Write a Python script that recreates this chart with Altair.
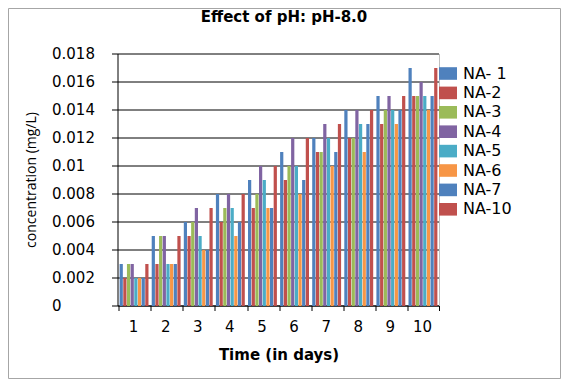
import altair as alt
import pandas as pd

days = ["1", "2", "3", "4", "5", "6", "7", "8", "9", "10"]
series = ["NA- 1", "NA-2", "NA-3", "NA-4", "NA-5", "NA-6", "NA-7", "NA-10"]
na1 = [0.003, 0.005, 0.006, 0.008, 0.009, 0.011, 0.012, 0.014, 0.015, 0.017]
na2 = [0.002, 0.003, 0.005, 0.006, 0.007, 0.009, 0.011, 0.012, 0.013, 0.015]
na3 = [0.003, 0.005, 0.006, 0.007, 0.008, 0.010, 0.011, 0.012, 0.014, 0.015]
na4 = [0.003, 0.005, 0.007, 0.008, 0.010, 0.012, 0.013, 0.014, 0.015, 0.016]
na5 = [0.002, 0.003, 0.005, 0.007, 0.009, 0.010, 0.012, 0.013, 0.014, 0.015]
na6 = [0.002, 0.003, 0.004, 0.005, 0.007, 0.008, 0.010, 0.011, 0.013, 0.014]
na7 = [0.002, 0.003, 0.004, 0.006, 0.007, 0.009, 0.011, 0.013, 0.014, 0.015]
na10 = [0.003, 0.005, 0.007, 0.008, 0.010, 0.012, 0.013, 0.014, 0.015, 0.017]
colors = ["#4F81BD", "#C0504D", "#9BBB59", "#8064A2", "#4BACC6", "#F79646", "#4F81BD", "#C0504D"]
y_ticks = [0, 0.002, 0.004, 0.006, 0.008, 0.01, 0.012, 0.014, 0.016, 0.018]
title_text = "Effect of pH: pH-8.0"

values = [na1, na2, na3, na4, na5, na6, na7, na10]
rows = []
for s, vals in zip(series, values):
    for d, v in zip(days, vals):
        rows.append({"day": d, "series": s, "value": v})
df = pd.DataFrame(rows)

W, H = 321, 252

bars = alt.Chart(df).mark_bar().encode(
    x=alt.X(
        "day:N", sort=days,
        scale=alt.Scale(paddingInner=0.1, paddingOuter=0.05),
        axis=alt.Axis(
            title="Time (in days)", labelAngle=0, bandPosition=0,
            grid=False, ticks=True, tickSize=5, tickColor="black", tickWidth=1,
            domain=True, domainColor="black", domainWidth=1, translate=0,
            labelFont="DejaVu Sans", labelFontSize=15, labelColor="black",
            labelPadding=9, labelBaseline="top",
            titleFont="DejaVu Sans", titleFontWeight="bold", titleFontSize=15,
            titleColor="black", titleX=161, titleY=49, titleBaseline="middle",
        ),
    ),
    xOffset=alt.XOffset("series:N", sort=series, scale=alt.Scale(paddingInner=0.12)),
    y=alt.Y(
        "value:Q",
        scale=alt.Scale(domain=[0, 0.018], nice=False),
        axis=alt.Axis(
            title="concentration (mg/L)", values=y_ticks,
            labelExpr="datum.value == 0 ? '0' : format(datum.value, '.3~f')",
            ticks=True, tickSize=6, tickColor="black", tickWidth=1,
            domain=True, domainColor="black", domainWidth=1, translate=0,
            grid=True, gridColor="black", gridWidth=1,
            labelFont="DejaVu Sans", labelFontSize=15, labelColor="black",
            labelAlign="left", labelPadding=60, labelBaseline="middle",
            titleFont="Open Sans", titleFontSize=14, titleFontWeight="normal",
            titleColor="black", titleX=-86, titleY=126, titleAngle=-90,
            titleAlign="center", titleBaseline="middle",
        ),
    ),
    color=alt.Color(
        "series:N", sort=series,
        scale=alt.Scale(domain=series, range=colors),
        legend=alt.Legend(
            title=None, orient="none", legendX=321, legendY=10.5, padding=0,
            symbolType="M-1,-0.7H1V0.7H-1Z", symbolSize=324, symbolStrokeWidth=0,
            symbolOpacity=1, symbolOffset=0, labelOffset=6, rowPadding=2.4,
            labelFont="DejaVu Sans", labelFontSize=16, labelColor="black",
        ),
    ),
)

one = pd.DataFrame({"a": [0]})
tdf = pd.DataFrame({"t": [title_text]})
title = alt.Chart(tdf).mark_text(
    font="DejaVu Sans", fontWeight="bold", fontSize=15, color="black", baseline="middle"
).encode(text="t:N", x=alt.value(166), y=alt.value(-37))
border = alt.Chart(one).mark_rect(fill="transparent", stroke="#a6a6a6", strokeWidth=1).encode(
    x=alt.value(-109.5), x2=alt.value(442.5), y=alt.value(-45.5), y2=alt.value(324.5)
)
right_edge = alt.Chart(one).mark_rule(color="#bfbfbf", strokeWidth=1).encode(
    x=alt.value(W + 0.5), y=alt.value(0), y2=alt.value(H)
)
end_tick = alt.Chart(one).mark_rule(color="black", strokeWidth=1).encode(
    x=alt.value(W + 0.5), y=alt.value(H), y2=alt.value(H + 5)
)

chart = alt.layer(bars, right_edge, end_tick, border, title).properties(
    width=W, height=H,
    autosize=alt.AutoSizeParams(type="none"),
    padding={"left": 110, "top": 46, "right": 122, "bottom": 73},
    background="white",
).configure_view(strokeWidth=0)

chart.save("out.html", embed_options={"renderer": "svg", "actions": False})
